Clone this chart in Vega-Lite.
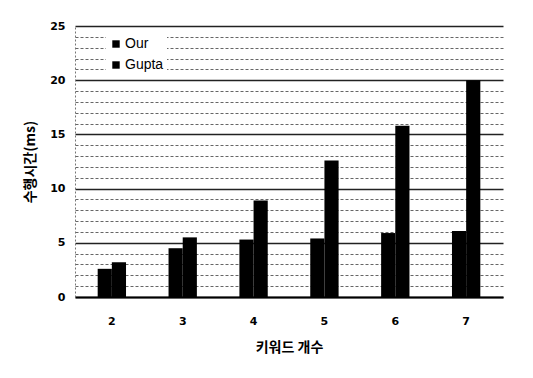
{
  "$schema": "https://vega.github.io/schema/vega-lite/v6.json",
  "autosize": {"type": "none"},
  "padding": {"left": 75, "top": 26, "right": 30, "bottom": 81},
  "width": 428,
  "height": 271,
  "background": "white",
  "data": {
    "values": [
      {"keywords": "2", "method": "Our", "time": 2.6},
      {"keywords": "2", "method": "Gupta", "time": 3.2},
      {"keywords": "3", "method": "Our", "time": 4.5},
      {"keywords": "3", "method": "Gupta", "time": 5.5},
      {"keywords": "4", "method": "Our", "time": 5.3},
      {"keywords": "4", "method": "Gupta", "time": 8.9},
      {"keywords": "5", "method": "Our", "time": 5.4},
      {"keywords": "5", "method": "Gupta", "time": 12.6},
      {"keywords": "6", "method": "Our", "time": 5.9},
      {"keywords": "6", "method": "Gupta", "time": 15.8},
      {"keywords": "7", "method": "Our", "time": 6.1},
      {"keywords": "7", "method": "Gupta", "time": 20.0}
    ]
  },
  "mark": {"type": "bar"},
  "encoding": {
    "x": {
      "field": "keywords",
      "type": "ordinal",
      "scale": {"paddingInner": 0.6, "paddingOuter": 0.32},
      "axis": {
        "title": "키워드 개수",
        "titleFont": "Noto Sans CJK KR",
        "titleFontSize": 14,
        "titleFontWeight": "bold",
        "titlePadding": 14,
        "labelAngle": 0,
        "labelFont": "DejaVu Sans",
        "labelFontSize": 11,
        "labelFontWeight": "bold",
        "labelPadding": 18,
        "ticks": false,
        "domainColor": "#000000",
        "domainWidth": 2
      }
    },
    "xOffset": {"field": "method", "sort": ["Our", "Gupta"], "scale": {"paddingInner": 0}},
    "y": {
      "field": "time",
      "type": "quantitative",
      "scale": {"domain": [0, 25], "nice": false},
      "axis": {
        "title": "수행시간(ms)",
        "titleFont": "Noto Sans CJK KR",
        "titleFontSize": 14,
        "titleFontWeight": "bold",
        "titlePadding": 12,
        "values": [0,1,2,3,4,5,6,7,8,9,10,11,12,13,14,15,16,17,18,19,20,21,22,23,24,25],
        "labelExpr": "datum.value % 5 === 0 ? datum.label : ''",
        "labelFont": "DejaVu Sans",
        "labelFontSize": 11,
        "labelFontWeight": "bold",
        "labelPadding": 10,
        "ticks": false,
        "domainColor": "#777777",
        "domainDash": [2, 2],
        "grid": true,
        "gridColor": {"condition": {"test": "datum.value % 5 === 0", "value": "#222222"}, "value": "#666666"},
        "gridDash": {"condition": {"test": "datum.value % 5 === 0", "value": []}, "value": [3, 2]},
        "gridWidth": {"condition": {"test": "datum.value % 5 === 0", "value": 1.5}, "value": 1}
      }
    },
    "color": {
      "field": "method",
      "type": "nominal",
      "sort": ["Our", "Gupta"],
      "scale": {"domain": ["Our", "Gupta"], "range": ["#000000", "#000000"]},
      "legend": {
        "title": null,
        "orient": "none",
        "legendX": 31,
        "legendY": 8,
        "symbolType": "square",
        "symbolSize": 55,
        "symbolStrokeWidth": 0,
        "labelFont": "Liberation Sans",
        "labelFontSize": 14,
        "labelOffset": 2,
        "rowPadding": 7,
        "fillColor": "white",
        "padding": 3
      }
    }
  },
  "config": {
    "view": {"stroke": null},
    "axis": {"labelColor": "#000000", "titleColor": "#000000"}
  }
}
